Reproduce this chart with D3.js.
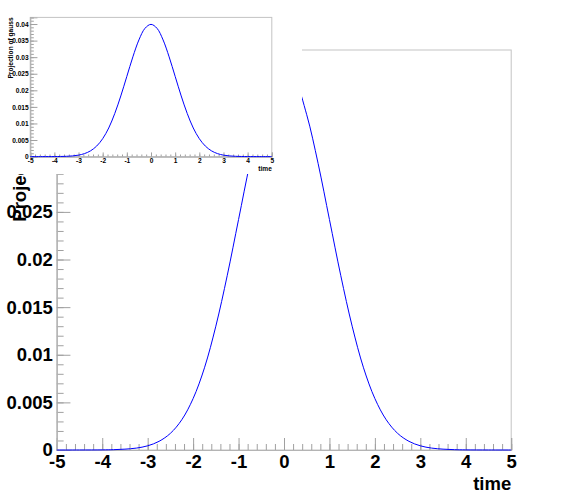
<!DOCTYPE html>
<html>
<head>
<meta charset="utf-8">
<script src="https://cdn.jsdelivr.net/npm/d3@7.9.0/dist/d3.min.js"></script>
<style>
  body { margin: 0; background: #fff; }
  svg { display: block; }
  text { font-family: "Liberation Sans", Arial, Helvetica, sans-serif; font-weight: bold; }
</style>
</head>
<body>
<svg id="c" width="568" height="500"></svg>
<script>
// values (projection of gauss vs time)
const timeVals = [-5, -4.5, -4, -3.75, -3.5, -3.25, -3, -2.75, -2.5, -2.25, -2, -1.75, -1.5, -1.25, -1, -0.75, -0.5, -0.25, 0,
  0.25, 0.5, 0.75, 1, 1.25, 1.5, 1.75, 2, 2.25, 2.5, 2.75, 3, 3.25, 3.5, 3.75, 4, 4.5, 5];
const projVals = [0, 0.000001, 0.000013, 0.000035, 0.00009, 0.0002, 0.00044, 0.00091, 0.00175, 0.00317, 0.0054, 0.00863, 0.013, 0.0183, 0.0242, 0.0301, 0.0352, 0.0387, 0.0399,
  0.0387, 0.0352, 0.0301, 0.0242, 0.0183, 0.013, 0.00863, 0.0054, 0.00317, 0.00175, 0.00091, 0.00044, 0.0002, 0.00009, 0.000035, 0.000013, 0.000001, 0];
const xTicks = [-5, -4, -3, -2, -1, 0, 1, 2, 3, 4, 5];
const yTicks = [0, 0.005, 0.01, 0.015, 0.02, 0.025, 0.03, 0.035, 0.04];
const xDomain = [-5, 5];
const yDomain = [0, 0.042];
const xTitle = 'time';
const yTitle = 'Projection of gauss';

const points = timeVals.map((t, i) => ({ t: t, v: projVals[i] }));
const svg = d3.select('#c');

function drawPad(root, w, h, fontSize, lblPadX, lblPadY, titleX) {
  root.append('rect').attr('width', w).attr('height', h).attr('fill', '#fff');
  let left = w * 0.1, right = w * 0.9, top = h * 0.1, bottom = h * 0.9;

  let x = d3.scaleLinear().domain(xDomain).range([left, right]);
  let y = d3.scaleLinear().domain(yDomain).range([bottom, top]);

  // frame
  root.append('rect')
    .attr('x', left).attr('y', top)
    .attr('width', right - left).attr('height', bottom - top)
    .attr('fill', 'none').attr('stroke', '#c4c4c4').attr('stroke-width', 1);

  let xLen = 0.03 * (bottom - top), yLen = 0.03 * (right - left);
  let xMinor = d3.range(-5, 5.001, 0.2).map(d => +d.toFixed(1));
  let yMinor = d3.range(0, 0.0421, 0.001).map(d => +d.toFixed(3));

  let gx = root.append('g').attr('transform', `translate(0,${bottom})`);
  gx.append('g').call(d3.axisBottom(x).tickValues(xMinor).tickSize(-xLen / 2).tickFormat(''));
  gx.append('g').call(d3.axisBottom(x).tickValues(xTicks).tickSize(-xLen)
    .tickPadding(lblPadX).tickFormat(d => String(d)));

  let gy = root.append('g').attr('transform', `translate(${left},0)`);
  gy.append('g').call(d3.axisLeft(y).tickValues(yMinor).tickSize(-yLen / 2).tickFormat(''));
  gy.append('g').call(d3.axisLeft(y).tickValues(yTicks).tickSize(-yLen)
    .tickPadding(lblPadY).tickFormat(d => String(+d.toFixed(3))));

  root.selectAll('.domain').attr('stroke', '#b4b4b4');
  root.selectAll('.tick line').attr('stroke', '#a0a0a0');
  root.selectAll('.tick text').attr('fill', '#000').attr('font-size', fontSize).attr('font-family', null);

  // curve
  let line = d3.line().x(d => x(d.t)).y(d => y(d.v)).curve(d3.curveCatmullRom);
  root.append('path').datum(points)
    .attr('d', line).attr('fill', 'none')
    .attr('stroke', '#0000ff').attr('stroke-width', 1);

  // axis titles
  root.append('text')
    .attr('x', right).attr('y', bottom + fontSize * 2.15)
    .attr('text-anchor', 'end').attr('font-size', fontSize).text(xTitle);
  root.append('text')
    .attr('transform', `translate(${titleX},${top}) rotate(-90)`)
    .attr('text-anchor', 'end').attr('font-size', fontSize).text(yTitle);
}

drawPad(svg.append('g'), 568, 500, 18.5, 5, 4, 26);
drawPad(svg.append('g'), 302, 174, 6.6, 1.7, 1.5, 13);
</script>
</body>
</html>
